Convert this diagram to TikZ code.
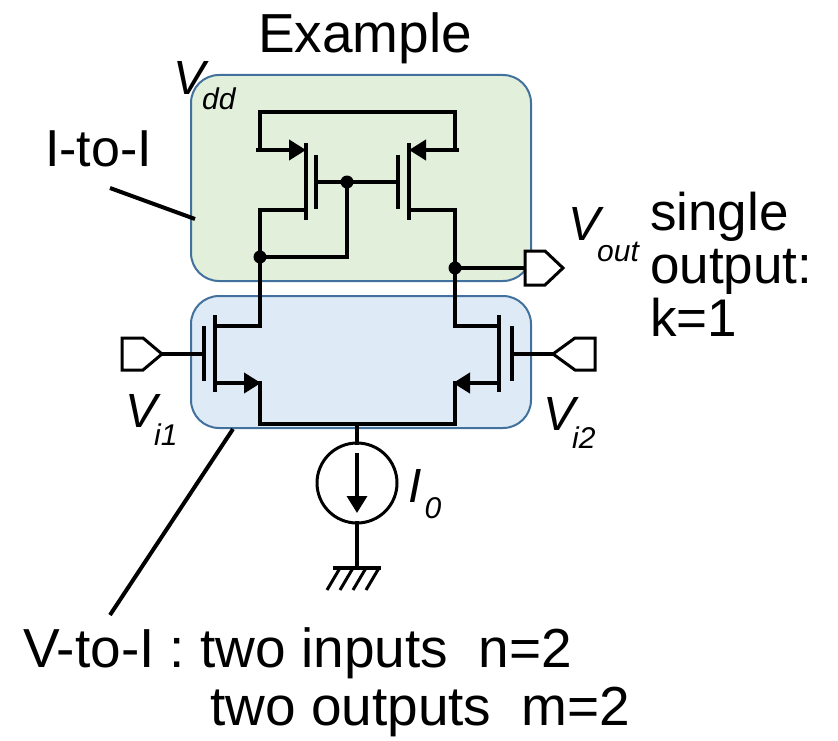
\documentclass[tikz,border=0pt]{standalone}
\usepackage{fontspec}
\setmainfont{Liberation Sans}
\usepackage{tikz}
\usetikzlibrary{arrows.meta}
\definecolor{itoifill}{RGB}{226,239,218}
\definecolor{vtoifill}{RGB}{222,235,247}
\definecolor{boxline}{RGB}{65,113,156}
\tikzset{
	wire/.style={line width=4pt, line cap=rect, line join=miter},
	blockbox/.style={line width=2pt, draw=boxline, rounded corners=28pt},
	pin/.style={line width=3pt, line join=miter, fill=white},
	srcarrow/.style={-{Triangle[length=17pt, width=20pt]}},
	lbl/.style={inner sep=0pt, anchor=base west},
}
\def\sig#1#2#3#4{{\fontsize{48}{48}\selectfont\itshape #1}\kern#4pt\raisebox{-#3pt}{\fontsize{30}{30}\selectfont\itshape #2}}
\def\junction(#1){\fill (#1) circle (6.5);}

\begin{document}
\begin{tikzpicture}[x=1pt, y=-1pt]
		%%%%% START %%%%%
		\useasboundingbox (0, 0) rectangle (838, 741);
		
		% the two blocks
		\draw[blockbox, fill=itoifill] (191, 75) rectangle (531, 281);
		\draw[blockbox, fill=vtoifill] (191, 296) rectangle (531, 428);
		
		% pmos mirror
		\draw[wire] (260, 150) -- (260, 112) -- (455, 112) -- (455, 150);
		\draw[wire, srcarrow] (258, 150) -- (306, 150);
		\draw[wire, srcarrow] (457, 150) -- (409, 150);
		\draw[wire] (306, 145) -- (306, 218);
		\draw[wire] (316, 157) -- (316, 207);
		\draw[wire] (409, 145) -- (409, 218);
		\draw[wire] (398, 157) -- (398, 207);
		\draw[wire] (316, 182) -- (398, 182);
		\draw[wire] (306, 210) -- (260, 210) -- (260, 257);
		\draw[wire] (347, 182) -- (347, 257) -- (260, 257);
		\draw[wire] (409, 210) -- (455, 210) -- (455, 268);
		\junction(347, 182)
		\junction(260, 257)
		\junction(455, 268)
		
		% output pin
		\coordinate (vout) at (525, 268);
		\draw[wire] (455, 268) -- (vout);
		\draw[pin] (525, 251) -- (545, 251) -- (563, 268) -- (545, 285) -- (525, 285) -- cycle;
		
		% nmos pair
		\draw[wire] (260, 257) -- (260, 326) -- (215, 326);
		\draw[wire] (215, 317) -- (215, 390);
		\draw[wire] (204, 328) -- (204, 379);
		\draw[wire, srcarrow] (215, 383) -- (261, 383);
		\draw[wire] (260, 383) -- (260, 424) -- (455, 424) -- (455, 383);
		\draw[wire, srcarrow] (499, 383) -- (453, 383);
		\draw[wire] (499, 317) -- (499, 390);
		\draw[wire] (512, 328) -- (512, 379);
		\draw[wire] (455, 268) -- (455, 326) -- (499, 326);
		
		% input pins
		\coordinate (vin1) at (162, 354);
		\coordinate (vin2) at (553, 354);
		\draw[wire] (vin1) -- (204, 354);
		\draw[wire] (512, 354) -- (vin2);
		\draw[pin] (122, 338) -- (143, 338) -- (vin1) -- (143, 370) -- (122, 370) -- cycle;
		\draw[pin] (vin2) -- (575, 338) -- (595, 338) -- (595, 370) -- (575, 370) -- cycle;
		
		% tail current source and ground
		\coordinate (tail) at (357, 424);
		\draw[wire] (tail) -- (357, 443);
		\draw[line width=3pt] (357, 483) circle (40);
		\draw[line width=3.5pt, srcarrow] (357, 453) -- (357, 513);
		\draw[wire] (357, 523) -- (357, 568);
		\draw[line width=3.5pt] (333, 568) -- (381, 568);
		\foreach \gx in {340, 353, 366, 379}
			\draw[line width=3pt] (\gx, 568) -- (\gx-13, 590);
		
		% labels
		\node[lbl, anchor=base] (title) at (365, 53) {\fontsize{55}{60}\selectfont Example};
		\node[lbl] (vdd) at (173, 95) {\sig{V}{dd}{15}{-3}};
		\node[lbl] (vo) at (568, 240) {\sig{V}{out}{21}{-3}};
		\node[lbl] (vi1) at (125, 427) {\sig{V}{i1}{18}{-3}};
		\node[lbl] (vi2) at (543, 430) {\sig{V}{i2}{18}{-3}};
		\node[lbl] (io) at (408, 502) {\sig{I}{0}{16}{3}};
		
		\node[lbl] (single) at (650, 230) {\fontsize{53}{53}\selectfont single};
		\node[lbl] (output) at (650, 283) {\fontsize{53}{53}\selectfont output:};
		\node[lbl] (kone) at (650, 336) {\fontsize{53}{53}\selectfont k=1};
		
		\node[lbl] (itoi) at (45, 166) {\fontsize{52}{52}\selectfont I-to-I};
		\node[lbl] (vtoi) at (23, 667) {\fontsize{55}{55}\selectfont V-to-I : two inputs\ \ n=2};
		\node[lbl] (vtoo) at (210, 725) {\fontsize{55}{55}\selectfont two outputs\ \ m=2};
		
		% pointers
		\coordinate (itoi-a) at (110, 188);
		\coordinate (itoi-b) at (195, 219);
		\coordinate (vtoi-a) at (110, 615);
		\coordinate (vtoi-b) at (233, 429);
		\draw[line width=4pt] (itoi-a) -- (itoi-b);
		\draw[line width=4pt] (vtoi-a) -- (vtoi-b);
		
		%%%%% END %%%%%
	\end{tikzpicture}
\end{document}
